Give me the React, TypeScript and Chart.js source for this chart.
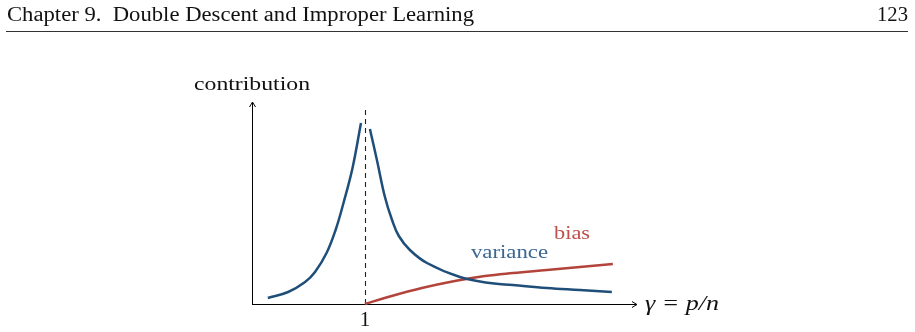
import React, { useEffect, useRef } from "react";
import { Chart, registerables } from "chart.js";

Chart.register(...registerables);

// ---- data ----
const headerTitle = "Chapter 9.  Double Descent and Improper Learning";
const headerPage = "123";
const yAxisLabel = "contribution";
const xAxisLabel = "γ = p/n";
const xTickLabel = "1";
const xTickValue = 1;

const varianceLeftX = [0.14, 0.32, 0.47, 0.558, 0.66, 0.74, 0.81, 0.89, 0.965];
const varianceLeftY = [0.3, 0.6, 1.1, 1.6, 2.55, 3.7, 5.05, 6.8, 9.05];

const varianceRightX = [1.044, 1.106, 1.177, 1.24, 1.3, 1.398, 1.549, 1.841, 2.106, 2.31, 2.611, 2.903, 3.186];
const varianceRightY = [8.75, 7.2, 5.35, 4.2, 3.4, 2.7, 2.05, 1.35, 1.05, 0.95, 0.8, 0.7, 0.6];

const biasX = [1.0, 1.204, 1.504, 1.796, 2.062, 2.31, 2.611, 2.903, 3.195];
const biasY = [0, 0.35, 0.8, 1.15, 1.4, 1.55, 1.7, 1.85, 2.0];

const seriesLabels = ["variance", "bias"];

const X_MAX = 3.4;
const Y_MAX = 10.05;

const BLUE = "#1f4e79";
const BLUE_TEXT = "#3a6793";
const RED = "#b2443b";
const RED_TEXT = "#bd5048";

const toPoints = (xs: number[], ys: number[]) => xs.map((x, i) => ({ x, y: ys[i] }));

function fitText(
  ctx: CanvasRenderingContext2D,
  text: string,
  x: number,
  baseline: number,
  font: string,
  width: number,
  color: string
) {
  ctx.save();
  ctx.font = font;
  ctx.fillStyle = color;
  ctx.textBaseline = "alphabetic";
  ctx.textAlign = "left";
  const w = ctx.measureText(text).width;
  ctx.translate(x, baseline);
  ctx.scale(width / w, 1);
  ctx.fillText(text, 0, 0);
  ctx.restore();
}

function arrowHead(ctx: CanvasRenderingContext2D, x: number, y: number, dir: "up" | "right") {
  ctx.save();
  ctx.translate(x, y);
  if (dir === "up") ctx.rotate(-Math.PI / 2);
  ctx.beginPath();
  ctx.moveTo(-5, -3);
  ctx.quadraticCurveTo(-1.5, -0.8, 0, 0);
  ctx.quadraticCurveTo(-1.5, 0.8, -5, 3);
  ctx.lineWidth = 1;
  ctx.strokeStyle = "#000";
  ctx.stroke();
  ctx.restore();
}

const decorPlugin = {
  id: "decor",
  beforeDatasetsDraw(chart: any) {
    const ctx: CanvasRenderingContext2D = chart.ctx;
    const xs = chart.scales.x;
    const ys = chart.scales.y;
    const x0 = xs.getPixelForValue(0);
    const y0 = ys.getPixelForValue(0);
    const xEnd = xs.getPixelForValue(X_MAX);
    const yTop = ys.getPixelForValue(Y_MAX);
    ctx.save();
    // header rule
    ctx.strokeStyle = "#333";
    ctx.lineWidth = 1.2;
    ctx.beginPath();
    ctx.moveTo(6, 31.5);
    ctx.lineTo(908, 31.5);
    ctx.stroke();
    // axes
    ctx.strokeStyle = "#000";
    ctx.lineWidth = 1;
    ctx.beginPath();
    ctx.moveTo(x0 + 0.5, y0);
    ctx.lineTo(x0 + 0.5, yTop);
    ctx.moveTo(x0, y0 + 0.5);
    ctx.lineTo(xEnd, y0 + 0.5);
    ctx.stroke();
    arrowHead(ctx, x0 + 0.5, yTop - 1, "up");
    arrowHead(ctx, xEnd + 1, y0 + 0.5, "right");
    // dashed line at gamma = 1
    const xd = Math.round(xs.getPixelForValue(xTickValue)) + 0.5;
    ctx.strokeStyle = "#222";
    ctx.lineWidth = 1.1;
    ctx.setLineDash([5, 4]);
    ctx.beginPath();
    ctx.moveTo(xd, y0);
    ctx.lineTo(xd, ys.getPixelForValue(9.8));
    ctx.stroke();
    ctx.restore();
  },
  afterDraw(chart: any) {
    const ctx: CanvasRenderingContext2D = chart.ctx;
    const xs = chart.scales.x;
    const serif = "'Liberation Serif', 'DejaVu Serif', serif";
    fitText(ctx, headerTitle, 7, 20.5, `20px ${serif}`, 467, "#111");
    fitText(ctx, headerPage, 877, 20.5, `20px ${serif}`, 31, "#111");
    fitText(ctx, yAxisLabel, 194, 90, `19px ${serif}`, 116, "#111");
    fitText(ctx, xAxisLabel, 645, 310, `italic 21px ${serif}`, 74, "#111");
    const xd = xs.getPixelForValue(xTickValue);
    ctx.save();
    ctx.font = `21px ${serif}`;
    ctx.fillStyle = "#111";
    ctx.textAlign = "center";
    ctx.fillText(xTickLabel, xd, 326);
    ctx.restore();
    fitText(ctx, seriesLabels[0], 471, 258, `19px ${serif}`, 77, BLUE_TEXT);
    fitText(ctx, seriesLabels[1], 554, 239, `19px ${serif}`, 36, RED_TEXT);
  },
};

export default function App() {
  const ref = useRef<HTMLCanvasElement | null>(null);
  useEffect(() => {
    document.body.style.margin = "0";
    const canvas = ref.current;
    if (!canvas) return;
    const lineStyle = {
      borderWidth: 2.5,
      pointRadius: 0,
      fill: false,
      tension: 0.4,
      clip: false as any,
    };
    const chart = new Chart(canvas, {
      type: "line",
      data: {
        datasets: [
          { ...lineStyle, label: "variance-left", data: toPoints(varianceLeftX, varianceLeftY), borderColor: BLUE },
          { ...lineStyle, label: "variance-right", data: toPoints(varianceRightX, varianceRightY), borderColor: BLUE },
          { ...lineStyle, label: "bias", data: toPoints(biasX, biasY), borderColor: RED },
        ],
      },
      options: {
        responsive: false,
        animation: false,
        layout: { padding: { left: 252, right: 279, top: 103, bottom: 28 } },
        plugins: { legend: { display: false }, tooltip: { enabled: false } },
        scales: {
          x: { type: "linear", min: 0, max: X_MAX, display: false },
          y: { type: "linear", min: 0, max: Y_MAX, display: false },
        },
      },
      plugins: [decorPlugin],
    });
    return () => chart.destroy();
  }, []);
  return (
    <div style={{ width: 915, height: 332, background: "#fff" }}>
      <canvas ref={ref} width={915} height={332} style={{ display: "block" }} />
    </div>
  );
}
